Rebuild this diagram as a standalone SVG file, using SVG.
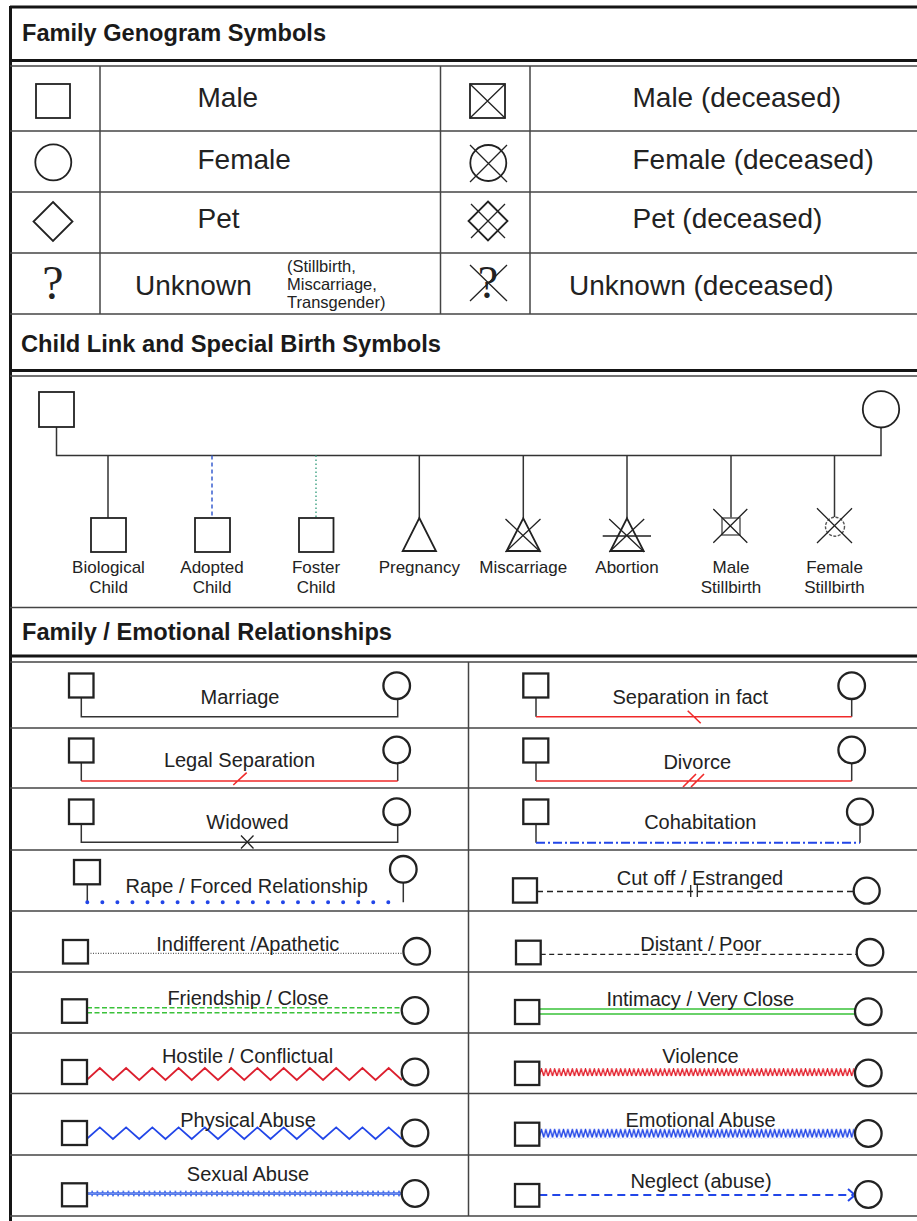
<svg xmlns="http://www.w3.org/2000/svg" width="917" height="1221" viewBox="0 0 917 1221">
  <style>
    .t { font-family: "Liberation Sans", Arial, sans-serif; fill: #222; }
    .title { font-size: 23px; font-weight: bold; fill: #1a1a1a; }
    .big { font-size: 28px; }
    .note { font-size: 16.5px; }
    .child { font-size: 17px; text-anchor: middle; }
    .rel { font-size: 20px; text-anchor: middle; }
    .q { font-family: "Liberation Serif", "Times New Roman", serif; fill: #222; text-anchor: middle; }
    .heavy { stroke: #151515; stroke-width: 3; fill: none; }
    .rule { stroke: #444; stroke-width: 1.5; fill: none; }
    .sym { fill: #fff; stroke: #222; stroke-width: 1.8; }
    .mark { stroke: #222; stroke-width: 1.3; fill: none; }
    .node { fill: #fff; stroke: #222; stroke-width: 2.3; }
    .link { stroke: #333; stroke-width: 1.5; fill: none; }
    .red { stroke: #f02a2a; stroke-width: 1.6; fill: none; }
    .blue { stroke: #2246e8; fill: none; }
    .green { stroke: #3ac23a; stroke-width: 1.6; fill: none; }
  </style>
  <defs>
    <pattern id="zig-fine-red" patternUnits="userSpaceOnUse" x="539.3" y="1068" width="4.4" height="9">
      <path d="M0 8 L2.2 1 L4.4 8" fill="none" stroke="#e3202c" stroke-width="1.4"/>
    </pattern>
    <pattern id="zig-fine-blue" patternUnits="userSpaceOnUse" x="539.3" y="1128.5" width="4.4" height="10">
      <path d="M0 9 L2.2 1 L4.4 9" fill="none" stroke="#2246e8" stroke-width="1.4"/>
    </pattern>
    <pattern id="braid-blue" patternUnits="userSpaceOnUse" x="87" y="1189" width="5.2" height="9">
      <path d="M0 1.5 Q1.3 7.5 2.6 4.5 T5.2 7.5 M0 7.5 Q1.3 1.5 2.6 4.5 T5.2 1.5" fill="none" stroke="#3a64e8" stroke-width="1"/>
    </pattern>
  </defs>

  <rect width="917" height="1221" fill="#fff"/>

  <!-- table frame -->
  <g id="frame">
    <line class="heavy" x1="10" y1="7" x2="917" y2="7"/>
    <line class="heavy" x1="10.5" y1="6" x2="10.5" y2="1221"/>
    <line class="heavy" x1="10" y1="60.5" x2="917" y2="60.5"/>
    <line class="rule" x1="10" y1="66" x2="917" y2="66"/>
    <line class="rule" x1="10" y1="131" x2="917" y2="131"/>
    <line class="rule" x1="10" y1="192" x2="917" y2="192"/>
    <line class="rule" x1="10" y1="253" x2="917" y2="253"/>
    <line class="rule" x1="10" y1="314" x2="917" y2="314"/>
    <line class="rule" x1="100" y1="66" x2="100" y2="314"/>
    <line class="rule" x1="440.5" y1="66" x2="440.5" y2="314"/>
    <line class="rule" x1="530" y1="66" x2="530" y2="314"/>
    <line class="heavy" x1="10" y1="370.5" x2="917" y2="370.5"/>
    <line class="rule" x1="10" y1="376" x2="917" y2="376"/>
    <line class="rule" x1="10" y1="607.5" x2="917" y2="607.5" stroke-width="2" stroke="#666"/>
    <line class="heavy" x1="10" y1="656" x2="917" y2="656"/>
    <line class="rule" x1="10" y1="662" x2="917" y2="662"/>
    <line class="rule" x1="10" y1="728" x2="917" y2="728"/>
    <line class="rule" x1="10" y1="788" x2="917" y2="788"/>
    <line class="rule" x1="10" y1="850" x2="917" y2="850"/>
    <line class="rule" x1="10" y1="911" x2="917" y2="911"/>
    <line class="rule" x1="10" y1="972" x2="917" y2="972"/>
    <line class="rule" x1="10" y1="1033" x2="917" y2="1033"/>
    <line class="rule" x1="10" y1="1093.5" x2="917" y2="1093.5"/>
    <line class="rule" x1="10" y1="1155" x2="917" y2="1155"/>
    <line class="rule" x1="10" y1="1216" x2="917" y2="1216"/>
    <line class="rule" x1="468.5" y1="662" x2="468.5" y2="1216"/>
  </g>

  <g id="titles">
    <text class="t title" x="22" y="41" textLength="304" lengthAdjust="spacingAndGlyphs">Family Genogram Symbols</text>
    <text class="t title" x="21" y="351.5" textLength="420" lengthAdjust="spacingAndGlyphs">Child Link and Special Birth Symbols</text>
    <text class="t title" x="22" y="639.5" textLength="370" lengthAdjust="spacingAndGlyphs">Family / Emotional Relationships</text>
  </g>

  <!-- basic symbols -->
  <g id="symbol-male">
    <rect class="sym" x="36" y="84" width="34" height="34"/>
    <text class="t big" x="197.5" y="107">Male</text>
  </g>
  <g id="symbol-female">
    <circle class="sym" cx="53.3" cy="162.3" r="18"/>
    <text class="t big" x="197.5" y="169">Female</text>
  </g>
  <g id="symbol-pet">
    <polygon class="sym" points="53,202 72.5,221.5 53,241 33.5,221.5"/>
    <text class="t big" x="197.5" y="228">Pet</text>
  </g>
  <g id="symbol-unknown">
    <text class="q" x="53" y="299" font-size="48">?</text>
    <text class="t big" x="135" y="295">Unknown</text>
    <text class="t note" x="287" y="271.5">(Stillbirth,</text>
    <text class="t note" x="287" y="290">Miscarriage,</text>
    <text class="t note" x="287" y="308">Transgender)</text>
  </g>
  <g id="symbol-male-deceased">
    <rect class="sym" x="470" y="84" width="35" height="34"/>
    <path class="mark" d="M470 84 L505 118 M505 84 L470 118"/>
    <text class="t big" x="632.5" y="107">Male (deceased)</text>
  </g>
  <g id="symbol-female-deceased">
    <circle class="sym" cx="488.3" cy="163" r="18"/>
    <path class="mark" d="M470 145 L507 182 M507 145 L470 182"/>
    <text class="t big" x="632.5" y="169">Female (deceased)</text>
  </g>
  <g id="symbol-pet-deceased">
    <polygon class="sym" points="488,201.5 507.5,221 488,240.5 468.5,221"/>
    <path class="mark" d="M471 238 L505 204 M471 204 L505 238"/>
    <text class="t big" x="632.5" y="228">Pet (deceased)</text>
  </g>
  <g id="symbol-unknown-deceased">
    <text class="q" x="488" y="298" font-size="46">?</text>
    <path class="mark" d="M470 265 L507 301 M507 265 L470 301"/>
    <text class="t big" x="569" y="295">Unknown (deceased)</text>
  </g>

  <!-- connectors: child links and relationship lines -->
  <g id="connectors">
    <path class="link" d="M56.5 427 V455.5 H881 V427.5"/>
    <line class="link" x1="108" y1="455.5" x2="108" y2="518"/>
    <line x1="212" y1="455.5" x2="212" y2="518" stroke="#3a5fd0" stroke-width="1.5" stroke-dasharray="4 3"/>
    <line x1="316" y1="455.5" x2="316" y2="518" stroke="#4aa88a" stroke-width="1.5" stroke-dasharray="1.5 2.5"/>
    <line class="link" x1="419.3" y1="455.5" x2="419.3" y2="518"/>
    <line class="link" x1="523.3" y1="455.5" x2="523.3" y2="518"/>
    <line class="link" x1="627" y1="455.5" x2="627" y2="518"/>
    <line class="link" x1="731" y1="455.5" x2="731" y2="518"/>
    <line class="link" x1="834.5" y1="455.5" x2="834.5" y2="517"/>

    <!-- marriage -->
    <path class="link" d="M81.3 697.5 V716.7 H397.7 V699"/>
    <!-- legal separation -->
    <path class="link" d="M81.3 762.5 V781 M397.7 763.3 V781"/>
    <path class="red" d="M81.3 781 H397.7 M233.3 785 L246.7 772.7"/>
    <!-- widowed -->
    <path class="link" d="M81.3 824 V842.3 H397.7 V825"/>
    <path class="mark" stroke-width="1.7" d="M241 835.5 L253.5 848.5 M253.5 835.5 L241 848.5"/>
    <!-- rape / forced -->
    <path class="link" d="M87.3 884.3 V902.3 M403.3 882.6 V902.3"/>
    <path class="blue" d="M87.3 902.3 H403.3" stroke-width="4" stroke-linecap="round" stroke-dasharray="0 15.05"/>
    <!-- indifferent -->
    <path d="M88 953.3 H403.4" stroke="#333" stroke-width="1" stroke-dasharray="1 1.5" fill="none"/>
    <!-- friendship -->
    <path class="green" d="M87 1007.7 H401.7 M87 1012.7 H401.7" stroke-dasharray="5 2.5"/>
    <!-- hostile -->
    <path stroke="#dc1f2e" stroke-width="1.7" fill="none" d="M86.7 1080 l13.13-12 l13.13 12 l13.13-12 l13.13 12 l13.13-12 l13.13 12 l13.13-12 l13.13 12 l13.13-12 l13.13 12 l13.13-12 l13.13 12 l13.13-12 l13.13 12 l13.13-12 l13.13 12 l13.13-12 l13.13 12 l13.13-12 l13.13 12 l13.13-12 l13.13 12 l13.13-12 l13.13 12"/>
    <!-- physical abuse -->
    <path class="blue" stroke-width="1.7" d="M86.7 1139 l13.13-11.7 l13.13 11.7 l13.13-11.7 l13.13 11.7 l13.13-11.7 l13.13 11.7 l13.13-11.7 l13.13 11.7 l13.13-11.7 l13.13 11.7 l13.13-11.7 l13.13 11.7 l13.13-11.7 l13.13 11.7 l13.13-11.7 l13.13 11.7 l13.13-11.7 l13.13 11.7 l13.13-11.7 l13.13 11.7 l13.13-11.7 l13.13 11.7 l13.13-11.7 l13.13 11.7"/>
    <!-- sexual abuse -->
    <rect x="87" y="1189" width="315" height="9" fill="url(#braid-blue)"/>

    <!-- separation in fact -->
    <path class="link" d="M536 697.5 V716.7 M851.7 699 V716.7"/>
    <path class="red" d="M536 716.7 H851.7 M687.7 710.7 L700.7 723.3"/>
    <!-- divorce -->
    <path class="link" d="M536 762.5 V781 M851.7 763.3 V781"/>
    <path class="red" d="M536 781 H851.7 M683 787 L696 774 M691 787 L704 774"/>
    <!-- cohabitation -->
    <path class="link" d="M536 824 V842.7 M860 824.7 V842.7"/>
    <path class="blue" stroke-width="2" stroke-dasharray="9 3 2 3" d="M536 842.7 H860"/>
    <!-- cut off -->
    <path d="M537 891.5 H853.7" stroke="#222" stroke-width="1.5" stroke-dasharray="6 4" fill="none"/>
    <path class="mark" stroke-width="1.6" d="M690.7 885 V897 M697.3 885 V897"/>
    <!-- distant -->
    <path d="M540.7 954.3 H856.7" stroke="#222" stroke-width="1.3" stroke-dasharray="5 3.5" fill="none"/>
    <!-- intimacy -->
    <path class="green" d="M539.3 1009 H855 M539.3 1014 H855"/>
    <!-- violence -->
    <rect x="539.3" y="1068" width="316" height="9" fill="url(#zig-fine-red)"/>
    <!-- emotional abuse -->
    <rect x="539.3" y="1128.5" width="316" height="10" fill="url(#zig-fine-blue)"/>
    <!-- neglect -->
    <path class="blue" stroke-width="2" stroke-dasharray="8 5" d="M539.3 1195 H853"/>
    <path class="blue" stroke-width="2" d="M848 1189 L855 1195 L848 1201"/>
  </g>

  <!-- parents -->
  <g id="parent-father"><rect class="sym" x="39" y="392" width="35" height="35"/></g>
  <g id="parent-mother"><circle class="sym" cx="881" cy="409.3" r="18.2"/></g>

  <!-- children and special births -->
  <g id="child-biological">
    <rect class="sym" x="91" y="518" width="35" height="34"/>
    <text class="t child" x="108.5" y="573.3">Biological</text>
    <text class="t child" x="108.5" y="592.7">Child</text>
  </g>
  <g id="child-adopted">
    <rect class="sym" x="195" y="518" width="35" height="34"/>
    <text class="t child" x="212" y="573.3">Adopted</text>
    <text class="t child" x="212" y="592.7">Child</text>
  </g>
  <g id="child-foster">
    <rect class="sym" x="299" y="518" width="34.5" height="34"/>
    <text class="t child" x="316" y="573.3">Foster</text>
    <text class="t child" x="316" y="592.7">Child</text>
  </g>
  <g id="child-pregnancy">
    <polygon class="sym" points="419.3,518 436,551 402.7,551"/>
    <text class="t child" x="419.3" y="573.3">Pregnancy</text>
  </g>
  <g id="child-miscarriage">
    <polygon class="sym" points="523.3,518.3 540,551 506.6,551"/>
    <path class="mark" d="M505.5 519 L540.5 552 M540.5 519 L505.5 552"/>
    <text class="t child" x="523.3" y="573.3">Miscarriage</text>
  </g>
  <g id="child-abortion">
    <polygon class="sym" points="627,518.3 643.7,551 610.3,551"/>
    <path class="mark" d="M609.2 519 L644.2 552 M644.2 519 L609.2 552 M602.7 536 H651"/>
    <text class="t child" x="627" y="573.3">Abortion</text>
  </g>
  <g id="child-male-stillbirth">
    <rect x="722" y="518" width="18" height="17" fill="#fff" stroke="#666" stroke-width="1.6"/>
    <path class="mark" stroke="#444" d="M713.3 509 L747.3 542.7 M747.3 509 L713.3 542.7"/>
    <text class="t child" x="731" y="573.3">Male</text>
    <text class="t child" x="731" y="592.7">Stillbirth</text>
  </g>
  <g id="child-female-stillbirth">
    <circle cx="835" cy="526.7" r="9.5" fill="#fff" stroke="#555" stroke-width="1.4" stroke-dasharray="3 1.5"/>
    <path class="mark" stroke="#444" d="M817 508.3 L852 543 M852 508.3 L817 543"/>
    <text class="t child" x="834.5" y="573.3">Female</text>
    <text class="t child" x="834.5" y="592.7">Stillbirth</text>
  </g>

  <!-- relationship pairs, left column -->
  <g id="rel-marriage">
    <rect class="node" x="69" y="673.5" width="24.5" height="24"/>
    <circle class="node" cx="396.7" cy="685.7" r="13.3"/>
    <text class="t rel" x="240" y="704">Marriage</text>
  </g>
  <g id="rel-legal-separation">
    <rect class="node" x="69" y="738.5" width="24.5" height="24"/>
    <circle class="node" cx="396.7" cy="750" r="13.3"/>
    <text class="t rel" x="239.5" y="766.7">Legal Separation</text>
  </g>
  <g id="rel-widowed">
    <rect class="node" x="69" y="799.5" width="24.5" height="24.5"/>
    <circle class="node" cx="396.7" cy="811.7" r="13.3"/>
    <text class="t rel" x="247.5" y="829">Widowed</text>
  </g>
  <g id="rel-rape">
    <rect class="node" x="74" y="860" width="26" height="24.3"/>
    <circle class="node" cx="403.3" cy="869.3" r="13.3"/>
    <text class="t rel" x="246.7" y="892.7">Rape / Forced Relationship</text>
  </g>
  <g id="rel-indifferent">
    <rect class="node" x="63" y="940" width="25" height="23.5"/>
    <circle class="node" cx="416.7" cy="951.3" r="13.3"/>
    <text class="t rel" x="247.8" y="950.7">Indifferent /Apathetic</text>
  </g>
  <g id="rel-friendship">
    <rect class="node" x="62" y="999.3" width="25" height="23.5"/>
    <circle class="node" cx="415" cy="1010.5" r="13.3"/>
    <text class="t rel" x="248" y="1005">Friendship / Close</text>
  </g>
  <g id="rel-hostile">
    <rect class="node" x="62" y="1060" width="25" height="24"/>
    <circle class="node" cx="415" cy="1072" r="13.3"/>
    <text class="t rel" x="247.5" y="1063.3">Hostile / Conflictual</text>
  </g>
  <g id="rel-physical-abuse">
    <rect class="node" x="62" y="1121" width="25" height="24"/>
    <circle class="node" cx="415" cy="1133" r="13.3"/>
    <text class="t rel" x="248" y="1126.7">Physical Abuse</text>
  </g>
  <g id="rel-sexual-abuse">
    <rect class="node" x="62" y="1183.3" width="25" height="23"/>
    <circle class="node" cx="415" cy="1193.5" r="13.3"/>
    <text class="t rel" x="248" y="1180.7">Sexual Abuse</text>
  </g>

  <!-- relationship pairs, right column -->
  <g id="rel-separation-in-fact">
    <rect class="node" x="523.3" y="673.5" width="25" height="24"/>
    <circle class="node" cx="851.7" cy="685.7" r="13.3"/>
    <text class="t rel" x="690.3" y="704">Separation in fact</text>
  </g>
  <g id="rel-divorce">
    <rect class="node" x="523.3" y="738.5" width="25" height="24"/>
    <circle class="node" cx="851.7" cy="750" r="13.3"/>
    <text class="t rel" x="697.3" y="769.3">Divorce</text>
  </g>
  <g id="rel-cohabitation">
    <rect class="node" x="523.3" y="799.5" width="25" height="24.5"/>
    <circle class="node" cx="860" cy="811.7" r="13"/>
    <text class="t rel" x="700.3" y="829">Cohabitation</text>
  </g>
  <g id="rel-cut-off">
    <rect class="node" x="513" y="878.3" width="24" height="24.3"/>
    <circle class="node" cx="866.7" cy="890.7" r="13"/>
    <text class="t rel" x="700" y="885">Cut off / Estranged</text>
  </g>
  <g id="rel-distant">
    <rect class="node" x="516" y="940.7" width="24.7" height="23.6"/>
    <circle class="node" cx="870" cy="952.3" r="13.3"/>
    <text class="t rel" x="700.8" y="950.7">Distant / Poor</text>
  </g>
  <g id="rel-intimacy">
    <rect class="node" x="515" y="1000" width="24.3" height="24"/>
    <circle class="node" cx="868.3" cy="1011.7" r="13.3"/>
    <text class="t rel" x="700.3" y="1005.7">Intimacy / Very Close</text>
  </g>
  <g id="rel-violence">
    <rect class="node" x="515" y="1061.7" width="24.3" height="23.3"/>
    <circle class="node" cx="868.3" cy="1073" r="13.3"/>
    <text class="t rel" x="700.5" y="1063.3">Violence</text>
  </g>
  <g id="rel-emotional-abuse">
    <rect class="node" x="515" y="1122.7" width="24.3" height="23"/>
    <circle class="node" cx="868.3" cy="1133.5" r="13.3"/>
    <text class="t rel" x="700.5" y="1126.7">Emotional Abuse</text>
  </g>
  <g id="rel-neglect">
    <rect class="node" x="515" y="1184" width="24.3" height="22.7"/>
    <circle class="node" cx="868.3" cy="1194.5" r="13.3"/>
    <text class="t rel" x="701" y="1188.3">Neglect (abuse)</text>
  </g>
</svg>
